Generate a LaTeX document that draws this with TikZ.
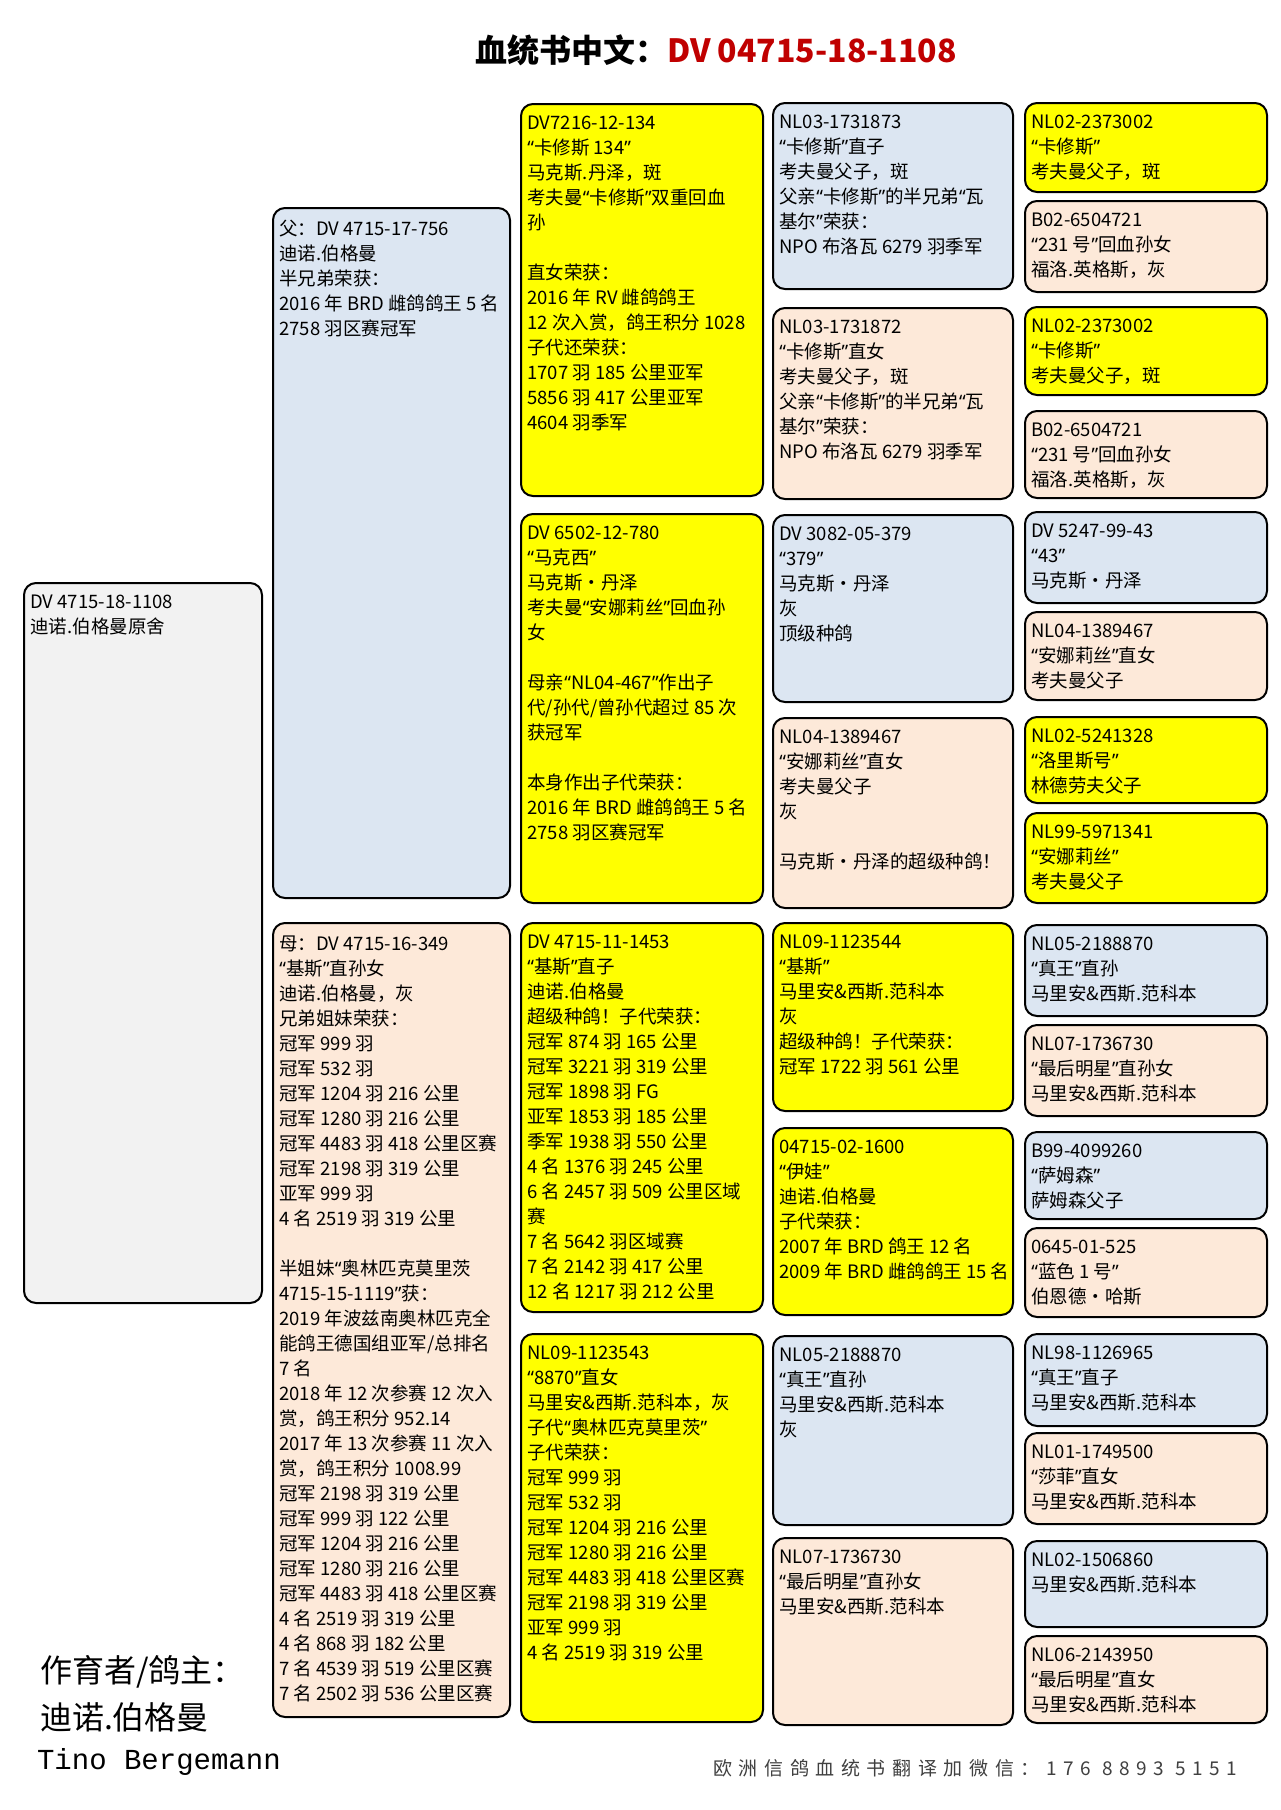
\documentclass[tikz,border=0pt]{standalone}
\usepackage{fontspec}
\setmainfont{Noto Sans CJK SC}
\newfontfamily\monofont{Liberation Mono}
\newfontfamily\quotefont{Noto Sans}
\newfontfamily\footfont[LetterSpace=35]{Noto Sans CJK SC}
\catcode`“=\active
\catcode`”=\active
\def“{{\quotefont\char"201C}}
\def”{{\quotefont\char"201D}}
\usetikzlibrary{fit}
\definecolor{pedyellow}{HTML}{FFFF00}
\definecolor{pedblue}{HTML}{DCE6F2}
\definecolor{pedpeach}{HTML}{FDE9D9}
\definecolor{pedgray}{HTML}{F2F2F2}
\definecolor{titlered}{HTML}{C00000}
\newcommand\pbox[7]{%
  \node[box,fill=#2,fit={(#3,#4) (#5,#6)}] (#1) {};
  \node[txt] (#1t) at ([shift={(7,13)}]#1.north west) {#7};}
\begin{document}
\begin{tikzpicture}
  [x=0.5pt,y=-0.5pt,
   box/.style={draw,line width=1pt,rounded corners=6pt,inner sep=0pt},
   txt/.style={anchor=north west,inner sep=0pt,align=left,font=\fontsize{9.25pt}{12.5pt}\selectfont}]
  \useasboundingbox (0,0) rectangle (1280,1810);
  \fill[white] (0,0) rectangle (1280,1810);

  \node[font=\fontsize{16pt}{16pt}\selectfont\bfseries] (title) at (716,50)
    {血统书中文：\textcolor{titlered}{DV 04715-18-1108}};

  \pbox{dog}{pedgray}{24}{583}{262}{1303}{DV 4715-18-1108\\迪诺.伯格曼原舍}

  \pbox{sire}{pedblue}{273}{208}{510}{898}{父：DV 4715-17-756\\迪诺.伯格曼\\半兄弟荣获：\\
    2016 年 BRD 雌鸽鸽王 5 名\\2758 羽区赛冠军}
  \pbox{dam}{pedpeach}{273}{923}{510}{1717}{母：DV 4715-16-349\\“基斯”直孙女\\迪诺.伯格曼，灰\\
    兄弟姐妹荣获：\\冠军 999 羽\\冠军 532 羽\\冠军 1204 羽 216 公里\\冠军 1280 羽 216 公里\\
    冠军 4483 羽 418 公里区赛\\冠军 2198 羽 319 公里\\亚军 999 羽\\4 名 2519 羽 319 公里\\[12.5pt]
    半姐妹“奥林匹克莫里茨\\4715-15-1119”获：\\2019 年波兹南奥林匹克全\\能鸽王德国组亚军/总排名\\
    7 名\\2018 年 12 次参赛 12 次入\\赏，鸽王积分 952.14\\2017 年 13 次参赛 11 次入\\
    赏，鸽王积分 1008.99\\冠军 2198 羽 319 公里\\冠军 999 羽 122 公里\\冠军 1204 羽 216 公里\\
    冠军 1280 羽 216 公里\\冠军 4483 羽 418 公里区赛\\4 名 2519 羽 319 公里\\4 名 868 羽 182 公里\\
    7 名 4539 羽 519 公里区赛\\7 名 2502 羽 536 公里区赛}

  \pbox{ss}{pedyellow}{521}{104}{763}{496}{DV7216-12-134\\“卡修斯 134”\\马克斯.丹泽，斑\\
    考夫曼“卡修斯”双重回血\\孙\\[12.5pt]直女荣获：\\2016 年 RV 雌鸽鸽王\\12 次入赏，鸽王积分 1028\\
    子代还荣获：\\1707 羽 185 公里亚军\\5856 羽 417 公里亚军\\4604 羽季军}
  \pbox{sd}{pedyellow}{521}{514}{763}{903}{DV 6502-12-780\\“马克西”\\马克斯•丹泽\\
    考夫曼“安娜莉丝”回血孙\\女\\[12.5pt]母亲“NL04-467”作出子\\代/孙代/曾孙代超过 85 次\\获冠军\\[12.5pt]
    本身作出子代荣获：\\2016 年 BRD 雌鸽鸽王 5 名\\2758 羽区赛冠军}
  \pbox{ds}{pedyellow}{521}{923}{763}{1312}{DV 4715-11-1453\\“基斯”直子\\迪诺.伯格曼\\
    超级种鸽！子代荣获：\\冠军 874 羽 165 公里\\冠军 3221 羽 319 公里\\冠军 1898 羽 FG\\
    亚军 1853 羽 185 公里\\季军 1938 羽 550 公里\\4 名 1376 羽 245 公里\\6 名 2457 羽 509 公里区域\\赛\\
    7 名 5642 羽区域赛\\7 名 2142 羽 417 公里\\12 名 1217 羽 212 公里}
  \pbox{dd}{pedyellow}{521}{1334}{763}{1722}{NL09-1123543\\“8870”直女\\马里安\&西斯.范科本，灰\\
    子代“奥林匹克莫里茨”\\子代荣获：\\冠军 999 羽\\冠军 532 羽\\冠军 1204 羽 216 公里\\
    冠军 1280 羽 216 公里\\冠军 4483 羽 418 公里区赛\\冠军 2198 羽 319 公里\\亚军 999 羽\\4 名 2519 羽 319 公里}

  \pbox{sss}{pedblue}{773}{103}{1013}{289}{NL03-1731873\\“卡修斯”直子\\考夫曼父子，斑\\
    父亲“卡修斯”的半兄弟“瓦\\基尔”荣获：\\NPO 布洛瓦 6279 羽季军}
  \pbox{ssd}{pedpeach}{773}{308}{1013}{499}{NL03-1731872\\“卡修斯”直女\\考夫曼父子，斑\\
    父亲“卡修斯”的半兄弟“瓦\\基尔”荣获：\\NPO 布洛瓦 6279 羽季军}
  \pbox{sds}{pedblue}{773}{515}{1013}{702}{DV 3082-05-379\\“379”\\马克斯•丹泽\\灰\\顶级种鸽}
  \pbox{sdd}{pedpeach}{773}{718}{1013}{908}{NL04-1389467\\“安娜莉丝”直女\\考夫曼父子\\灰\\[12.5pt]
    马克斯•丹泽的超级种鸽！}
  \pbox{dss}{pedyellow}{773}{923}{1013}{1111}{NL09-1123544\\“基斯”\\马里安\&西斯.范科本\\灰\\
    超级种鸽！子代荣获：\\冠军 1722 羽 561 公里}
  \pbox{dsd}{pedyellow}{773}{1128}{1013}{1315}{04715-02-1600\\“伊娃”\\迪诺.伯格曼\\子代荣获：\\
    2007 年 BRD 鸽王 12 名\\2009 年 BRD 雌鸽鸽王 15 名}
  \pbox{dds}{pedblue}{773}{1336}{1013}{1525}{NL05-2188870\\“真王”直孙\\马里安\&西斯.范科本\\灰}
  \pbox{ddd}{pedpeach}{773}{1538}{1013}{1725}{NL07-1736730\\“最后明星”直孙女\\马里安\&西斯.范科本}

  \pbox{ssss}{pedyellow}{1025}{103}{1267}{192}{NL02-2373002\\“卡修斯”\\考夫曼父子，斑}
  \pbox{sssd}{pedpeach}{1025}{201}{1267}{292}{B02-6504721\\“231 号”回血孙女\\福洛.英格斯，灰}
  \pbox{ssds}{pedyellow}{1025}{307}{1267}{395}{NL02-2373002\\“卡修斯”\\考夫曼父子，斑}
  \pbox{ssdd}{pedpeach}{1025}{411}{1267}{498}{B02-6504721\\“231 号”回血孙女\\福洛.英格斯，灰}
  \pbox{sdss}{pedblue}{1025}{512}{1267}{603}{DV 5247-99-43\\“43”\\马克斯•丹泽}
  \pbox{sdsd}{pedpeach}{1025}{612}{1267}{700}{NL04-1389467\\“安娜莉丝”直女\\考夫曼父子}
  \pbox{sdds}{pedyellow}{1025}{717}{1267}{803}{NL02-5241328\\“洛里斯号”\\林德劳夫父子}
  \pbox{sddd}{pedyellow}{1025}{813}{1267}{903}{NL99-5971341\\“安娜莉丝”\\考夫曼父子}
  \pbox{dsss}{pedblue}{1025}{925}{1267}{1016}{NL05-2188870\\“真王”直孙\\马里安\&西斯.范科本}
  \pbox{dssd}{pedpeach}{1025}{1025}{1267}{1116}{NL07-1736730\\“最后明星”直孙女\\马里安\&西斯.范科本}
  \pbox{dsds}{pedblue}{1025}{1132}{1267}{1219}{B99-4099260\\“萨姆森”\\萨姆森父子}
  \pbox{dsdd}{pedpeach}{1025}{1228}{1267}{1317}{0645-01-525\\“蓝色 1 号”\\伯恩德•哈斯}
  \pbox{ddss}{pedblue}{1025}{1334}{1267}{1426}{NL98-1126965\\“真王”直子\\马里安\&西斯.范科本}
  \pbox{ddsd}{pedpeach}{1025}{1433}{1267}{1524}{NL01-1749500\\“莎菲”直女\\马里安\&西斯.范科本}
  \pbox{ddds}{pedblue}{1025}{1541}{1267}{1627}{NL02-1506860\\马里安\&西斯.范科本}
  \pbox{dddd}{pedpeach}{1025}{1636}{1267}{1723}{NL06-2143950\\“最后明星”直女\\马里安\&西斯.范科本}

  \node[anchor=west,font=\fontsize{16pt}{16pt}\selectfont] (breeder) at (33,1672) {作育者/鸽主：};
  \node[anchor=west,font=\fontsize{16pt}{16pt}\selectfont] (owner) at (33,1717) {迪诺.伯格曼};
  \node[anchor=west,font=\monofont\fontsize{14.5pt}{14.5pt}\selectfont] (tino) at (30,1762) {Tino Bergemann};
  \node[anchor=west,text=black!75,font=\footfont\fontsize{9.5pt}{9.5pt}\selectfont] (wechat) at (706,1768)
    {欧洲信鸽血统书翻译加微信：176 8893 5151};
\end{tikzpicture}
\end{document}
